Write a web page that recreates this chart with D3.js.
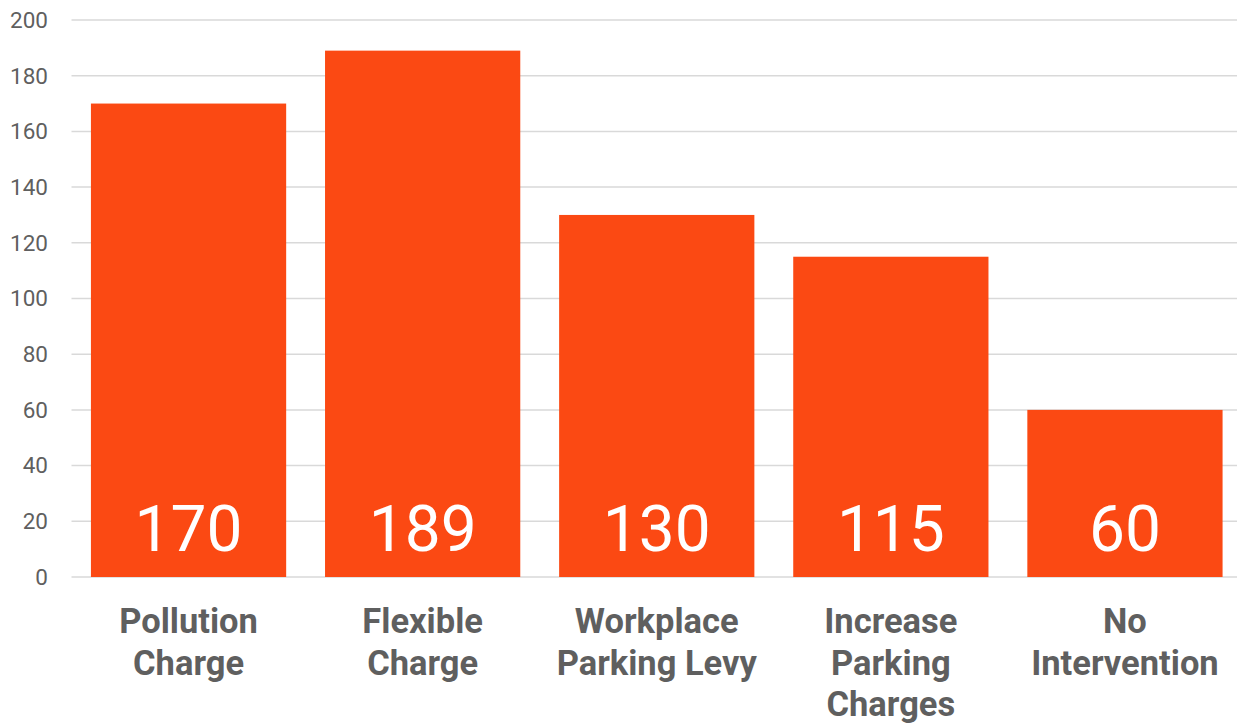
<!DOCTYPE html>
<html><head><meta charset="utf-8">
<script src="https://cdn.jsdelivr.net/npm/d3@7"></script>
<style>html,body{margin:0;padding:0;background:#fff;}svg{display:block;}</style>
</head><body>
<svg id="chart" width="1237" height="724"></svg>
<script>
const categories = [["Pollution","Charge"],["Flexible","Charge"],["Workplace","Parking Levy"],["Increase","Parking","Charges"],["No","Intervention"]];
const values = [170, 189, 130, 115, 60];
const yTicks = [0, 20, 40, 60, 80, 100, 120, 140, 160, 180, 200];

const svg = d3.select("#chart");
const x = d3.scaleBand().domain(d3.range(values.length)).range([71.5, 1242]).paddingInner(0.166).paddingOuter(0.083);
const y = d3.scaleLinear().domain([0, 200]).range([577, 20]);

// gridlines
svg.append("g").selectAll("line").data(yTicks).join("line")
  .attr("x1", 71.5).attr("x2", 1237)
  .attr("y1", d => y(d)).attr("y2", d => y(d))
  .attr("stroke", "#d9d9d9").attr("stroke-width", 1.5);

// y labels
svg.append("g").selectAll("text").data(yTicks).join("text")
  .attr("x", 48).attr("y", d => y(d)).attr("dy", "0.35em")
  .attr("text-anchor", "end")
  .attr("font-family", "Roboto").attr("font-size", 22.5).attr("fill", "#5f5f5f")
  .text(d => d);

// bars
svg.append("g").selectAll("rect").data(values).join("rect")
  .attr("x", (d, i) => x(i)).attr("width", x.bandwidth())
  .attr("y", d => y(d)).attr("height", d => y(0) - y(d))
  .attr("fill", "#fb4913");

// value labels
svg.append("g").selectAll("text").data(values).join("text")
  .attr("x", (d, i) => x(i) + x.bandwidth() / 2).attr("y", 550.5)
  .attr("text-anchor", "middle")
  .attr("font-family", "Roboto").attr("font-size", 64).attr("fill", "#fff")
  .text(d => d);

// category labels
const cg = svg.append("g").selectAll("text").data(categories).join("text")
  .attr("x", (d, i) => x(i) + x.bandwidth() / 2).attr("y", 633)
  .attr("text-anchor", "middle")
  .attr("font-family", "Roboto").attr("font-weight", "bold").attr("font-size", 34.5).attr("fill", "#5f5f5f");
cg.each(function(d, i) {
  const t = d3.select(this);
  d.forEach((line, j) => {
    t.append("tspan").attr("x", x(i) + x.bandwidth() / 2).attr("y", 633 + j * 41.5).text(line);
  });
});
</script>
</body></html>
